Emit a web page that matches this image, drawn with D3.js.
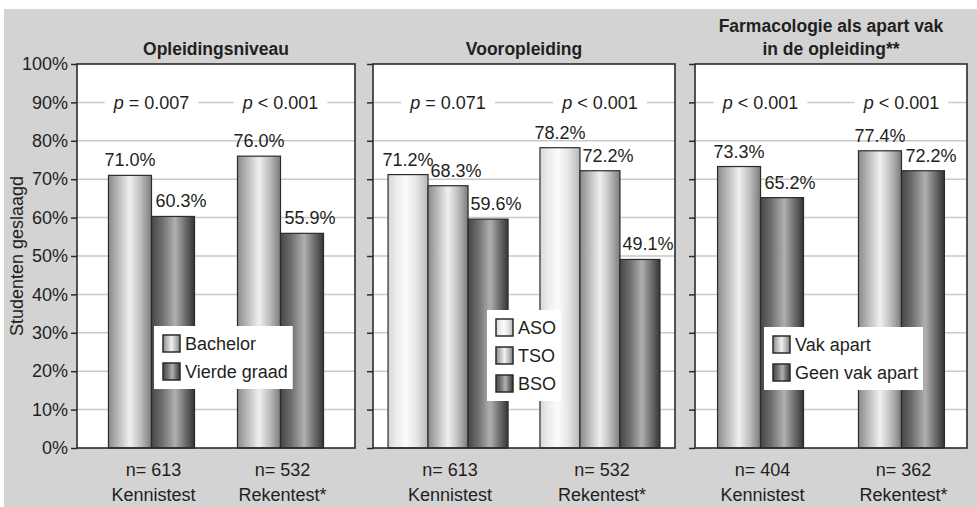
<!DOCTYPE html>
<html>
<head>
<meta charset="utf-8">
<script src="https://cdn.jsdelivr.net/npm/d3@7"></script>
<style>
  html, body { margin: 0; padding: 0; background: #fff; }
  svg { display: block; }
  text { font-family: "Liberation Sans", Arial, sans-serif; fill: #231f20; }
</style>
</head>
<body>
<svg id="chart" width="977" height="507"></svg>
<script>
// ---- data ----
const yTicks = [0, 10, 20, 30, 40, 50, 60, 70, 80, 90, 100];
const tests = ["Kennistest", "Rekentest*"];

const levelTitle = ["Opleidingsniveau"];
const levelSeries = ["Bachelor", "Vierde graad"];
const levelValues = [[71.0, 76.0], [60.3, 55.9]];
const levelN = [613, 532];
const levelP = ["= 0.007", "< 0.001"];

const prepTitle = ["Vooropleiding"];
const prepSeries = ["ASO", "TSO", "BSO"];
const prepValues = [[71.2, 78.2], [68.3, 72.2], [59.6, 49.1]];
const prepN = [613, 532];
const prepP = ["= 0.071", "< 0.001"];

const pharmaTitle = ["Farmacologie als apart vak", "in de opleiding**"];
const pharmaSeries = ["Vak apart", "Geen vak apart"];
const pharmaValues = [[73.3, 77.4], [65.2, 72.2]];
const pharmaN = [404, 362];
const pharmaP = ["< 0.001", "< 0.001"];

// ---- layout ----
const svg = d3.select("#chart");
const plotTop = 64, plotBottom = 448;
const y = d3.scaleLinear().domain([0, 100]).range([plotBottom, plotTop]);

const panels = [
  { title: levelTitle, series: levelSeries, values: levelValues, n: levelN, p: levelP,
    x0: 77, x1: 355, pin: 0.333, pout: 0.244, fills: ["mid", "dark"],
    legend: { x: 154, y: 326 }, axisLabels: true },
  { title: prepTitle, series: prepSeries, values: prepValues, n: prepN, p: prepP,
    x0: 373, x1: 675, pin: 0.21, pout: 0.099, fills: ["light", "mid", "dark"],
    legend: { x: 487, y: 310 } },
  { title: pharmaTitle, series: pharmaSeries, values: pharmaValues, n: pharmaN, p: pharmaP,
    x0: 695, x1: 967, pin: 0.39, pout: 0.16, fills: ["mid", "dark"],
    legend: { x: 764, y: 327 } }
];

// grey backdrop
svg.append("rect").attr("x", 4).attr("y", 9).attr("width", 973).attr("height", 498)
  .attr("fill", "#d3d3d4");

// cylinder-like gradients
const defs = svg.append("defs");
const gradients = {
  light: [[0, "#d6d6d6"], [0.2, "#ececec"], [0.45, "#fbfbfb"], [0.7, "#e6e6e6"], [1, "#b8b8b8"]],
  mid:   [[0, "#8a8a8a"], [0.2, "#b4b4b4"], [0.5, "#f0f0f0"], [0.75, "#bdbdbd"], [1, "#7c7c7c"]],
  dark:  [[0, "#474747"], [0.25, "#6e6e6e"], [0.55, "#b0b0b0"], [0.8, "#6a6a6a"], [1, "#343434"]]
};
Object.entries(gradients).forEach(([name, stops]) => {
  const g = defs.append("linearGradient").attr("id", "g-" + name)
    .attr("x1", "0%").attr("x2", "100%").attr("y1", "0%").attr("y2", "0%");
  stops.forEach(([o, c]) => g.append("stop").attr("offset", o).attr("stop-color", c));
});

// y-axis title
svg.append("text")
  .attr("transform", `translate(23,${(plotTop + plotBottom) / 2}) rotate(-90)`)
  .attr("text-anchor", "middle")
  .style("font-size", "18px")
  .text("Studenten geslaagd");

panels.forEach(pn => {
  const g = svg.append("g");
  const x = d3.scaleBand().domain(tests).range([pn.x0, pn.x1])
    .paddingInner(pn.pin).paddingOuter(pn.pout);
  const xs = d3.scaleBand().domain(pn.series).range([0, x.bandwidth()]);
  const cx = (pn.x0 + pn.x1) / 2;

  // panel background
  g.append("rect").attr("x", pn.x0).attr("y", plotTop)
    .attr("width", pn.x1 - pn.x0).attr("height", plotBottom - plotTop).attr("fill", "#fff");

  // gridlines
  g.selectAll("line.grid").data(yTicks.filter(t => t > 0 && t < 100)).join("line")
    .attr("x1", pn.x0).attr("x2", pn.x1)
    .attr("y1", d => y(d)).attr("y2", d => y(d))
    .attr("stroke", "#c9c9c9").attr("stroke-width", 1.5);

  // tick marks (and tick labels on the first panel)
  const axis = d3.axisLeft(y).tickValues(yTicks).tickSize(6).tickPadding(3)
    .tickFormat(d => pn.axisLabels ? d + "%" : "");
  const ax = g.append("g").attr("transform", `translate(${pn.x0},0)`).call(axis);
  ax.select(".domain").remove();
  ax.selectAll(".tick line").attr("stroke", "#2b2b2b").attr("stroke-width", 1.5);
  ax.selectAll(".tick text").style("font-size", "18px")
    .style("font-family", "Liberation Sans, Arial, sans-serif").attr("fill", "#231f20");

  // p-values on the 90% line, with a white gap behind the text
  tests.forEach((t, i) => {
    const px = x(t) + x.bandwidth() / 2;
    const txt = g.append("text").attr("x", px).attr("y", y(90)).attr("dy", "0.35em")
      .attr("text-anchor", "middle").style("font-size", "18px");
    txt.append("tspan").style("font-style", "italic").text("p");
    txt.append("tspan").text(" " + pn.p[i]);
    const w = txt.node().getComputedTextLength();
    g.insert("rect", function () { return txt.node(); })
      .attr("x", px - w / 2 - 9).attr("y", y(90) - 3)
      .attr("width", w + 18).attr("height", 6).attr("fill", "#fff");
  });

  // bars
  pn.series.forEach((s, si) => {
    tests.forEach((t, ti) => {
      const v = pn.values[si][ti];
      g.append("rect")
        .attr("x", x(t) + xs(s)).attr("y", y(v))
        .attr("width", xs.bandwidth()).attr("height", y(0) - y(v))
        .attr("fill", `url(#g-${pn.fills[si]})`)
        .attr("stroke", "#2b2b2b").attr("stroke-width", 1.2);
      g.append("text")
        .attr("x", x(t) + xs(s) + xs.bandwidth() / 2 + (si > 0 ? 8 : 0))
        .attr("y", y(v) - 9)
        .attr("text-anchor", "middle").style("font-size", "18px")
        .text(v.toFixed(1) + "%");
    });
  });

  // frame
  g.append("rect").attr("x", pn.x0).attr("y", plotTop)
    .attr("width", pn.x1 - pn.x0).attr("height", plotBottom - plotTop)
    .attr("fill", "none").attr("stroke", "#2b2b2b").attr("stroke-width", 1.6);

  // panel title
  const lines = pn.title;
  lines.forEach((l, li) => {
    g.append("text").attr("x", cx)
      .attr("y", 55 - (lines.length - 1 - li) * 23)
      .attr("text-anchor", "middle")
      .style("font-size", "17.5px").style("font-weight", "bold")
      .text(l);
  });

  // category labels
  tests.forEach((t, i) => {
    const lx = x(t) + x.bandwidth() / 2 + 2;
    g.append("text").attr("x", lx).attr("y", 476).attr("text-anchor", "middle")
      .style("font-size", "18px").text("n= " + pn.n[i]);
    g.append("text").attr("x", lx).attr("y", 501).attr("text-anchor", "middle")
      .style("font-size", "18px").text(t);
  });

  // legend
  const lg = g.append("g").attr("transform", `translate(${pn.legend.x},${pn.legend.y})`);
  const box = lg.append("rect").attr("fill", "#fff");
  let maxW = 0;
  pn.series.forEach((s, si) => {
    const cy = 17.5 + si * 28;
    lg.append("rect").attr("x", 9).attr("y", cy - 8.5).attr("width", 17).attr("height", 17)
      .attr("fill", `url(#g-${pn.fills[si]})`).attr("stroke", "#2b2b2b").attr("stroke-width", 1.5);
    const tx = lg.append("text").attr("x", 31).attr("y", cy).attr("dy", "0.35em")
      .style("font-size", "18px").text(s);
    maxW = Math.max(maxW, tx.node().getComputedTextLength());
  });
  box.attr("x", 0).attr("y", 0).attr("width", 31 + maxW + 5)
    .attr("height", 35 + (pn.series.length - 1) * 28);
});
</script>
</body>
</html>
